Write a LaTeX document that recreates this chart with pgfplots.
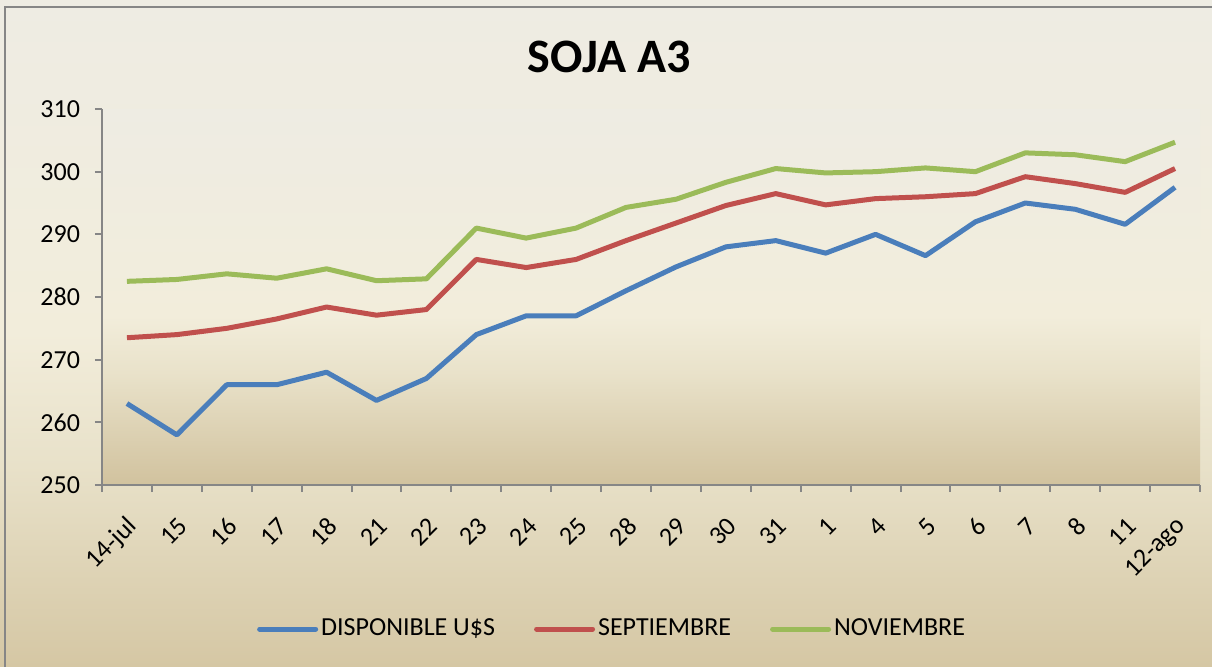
\documentclass[border=0pt]{standalone}
\usepackage{fontspec}
\setmainfont{Carlito}
\usepackage{pgfplots}
\pgfplotsset{compat=1.18}
\definecolor{cblue}{RGB}{74,126,187}
\definecolor{cred}{RGB}{192,80,77}
\definecolor{cgreen}{RGB}{155,187,89}
\definecolor{axgray}{RGB}{134,134,134}
\definecolor{oA}{RGB}{213,199,164}
\definecolor{oB}{RGB}{232,225,201}
\definecolor{oC}{RGB}{242,237,219}
\definecolor{oD}{RGB}{238,236,227}
\definecolor{pA}{RGB}{209,194,158}
\definecolor{pB}{RGB}{233,226,202}
\definecolor{pC}{RGB}{242,237,219}
\definecolor{pD}{RGB}{238,236,227}
\pgfdeclareverticalshading{outershade}{100bp}{color(0bp)=(oA); color(25bp)=(oA); color(40bp)=(oB); color(50bp)=(oC); color(75bp)=(oD); color(100bp)=(oD)}
\pgfdeclareverticalshading{plotshade}{100bp}{color(0bp)=(pA); color(25bp)=(pA); color(40bp)=(pB); color(47.5bp)=(pC); color(75bp)=(pD); color(100bp)=(pD)}
\begin{document}
\begin{tikzpicture}
\path[use as bounding box] (0,0) rectangle (606pt,333pt);
\clip (0,0) rectangle (606pt,333pt);
\fill[shading=outershade] (0,0) rectangle (606pt,333pt);
\draw[axgray, line width=1pt] (2.5pt,-10pt) -- (2.5pt,329.5pt) -- (620pt,329.5pt);
\begin{axis}[
  at={(51pt,90.5pt)}, anchor=south west,
  width=549pt, height=188pt, scale only axis,
  xmin=-0.5, xmax=21.5, ymin=250, ymax=310,
  ytick={250,260,...,310},
  xtick={0,...,21},
  xticklabels={14-jul,15,16,17,18,21,22,23,24,25,28,29,30,31,1,4,5,6,7,8,11,12-ago},
  minor xtick={-0.5,0.5,...,21.5},
  axis x line*=bottom, axis y line*=left,
  axis line style={axgray, line width=1pt},
  tick align=outside,
  major tick length=3.5pt, minor tick length=3.5pt,
  major x tick style={draw=none},
  minor x tick style={axgray, line width=1pt},
  ytick style={axgray, line width=1pt},
  tick label style={font=\fontsize{13}{15}\selectfont, text=black},
  /pgf/number format/assume math mode=true,
  yticklabel style={xshift=-4pt},
  xticklabel style={rotate=45, anchor=east, xshift=-5pt, yshift=-13pt},
  axis background/.style={shading=plotshade},
  legend style={at={(axis description cs:0.465,-0.383)}, anchor=center,
    draw=none, fill=none, font=\fontsize{13}{15}\selectfont,
    nodes={inner xsep=1.5pt},
    /tikz/every even column/.append style={column sep=18pt}},
  legend columns=3,
  legend cell align=left,
  legend image code/.code={\draw[#1, line cap=round] (0pt,0pt) -- (28pt,0pt);},
  every axis plot/.append style={line width=2.5pt, line join=round, no markers},
]
\addplot[cblue] coordinates {(0,263) (1,258) (2,266) (3,266) (4,268) (5,263.5) (6,267) (7,274) (8,277) (9,277) (10,281) (11,284.8) (12,288) (13,289) (14,287) (15,290) (16,286.6) (17,292) (18,295) (19,294) (20,291.6) (21,297.5)};
\addlegendentry{DISPONIBLE U\$S}
\addplot[cred] coordinates {(0,273.5) (1,274) (2,275) (3,276.5) (4,278.4) (5,277.1) (6,278) (7,286) (8,284.7) (9,286) (10,289) (11,291.8) (12,294.6) (13,296.5) (14,294.7) (15,295.7) (16,296) (17,296.5) (18,299.2) (19,298.1) (20,296.7) (21,300.5)};
\addlegendentry{SEPTIEMBRE}
\addplot[cgreen] coordinates {(0,282.5) (1,282.8) (2,283.7) (3,283) (4,284.5) (5,282.6) (6,282.9) (7,291) (8,289.4) (9,291) (10,294.3) (11,295.6) (12,298.3) (13,300.5) (14,299.8) (15,300) (16,300.6) (17,300) (18,303) (19,302.7) (20,301.6) (21,304.7)};
\addlegendentry{NOVIEMBRE}
\end{axis}
\node[font=\fontsize{24}{28}\selectfont\bfseries] at (304.5pt,304.5pt) {SOJA A3};
\end{tikzpicture}
\end{document}
